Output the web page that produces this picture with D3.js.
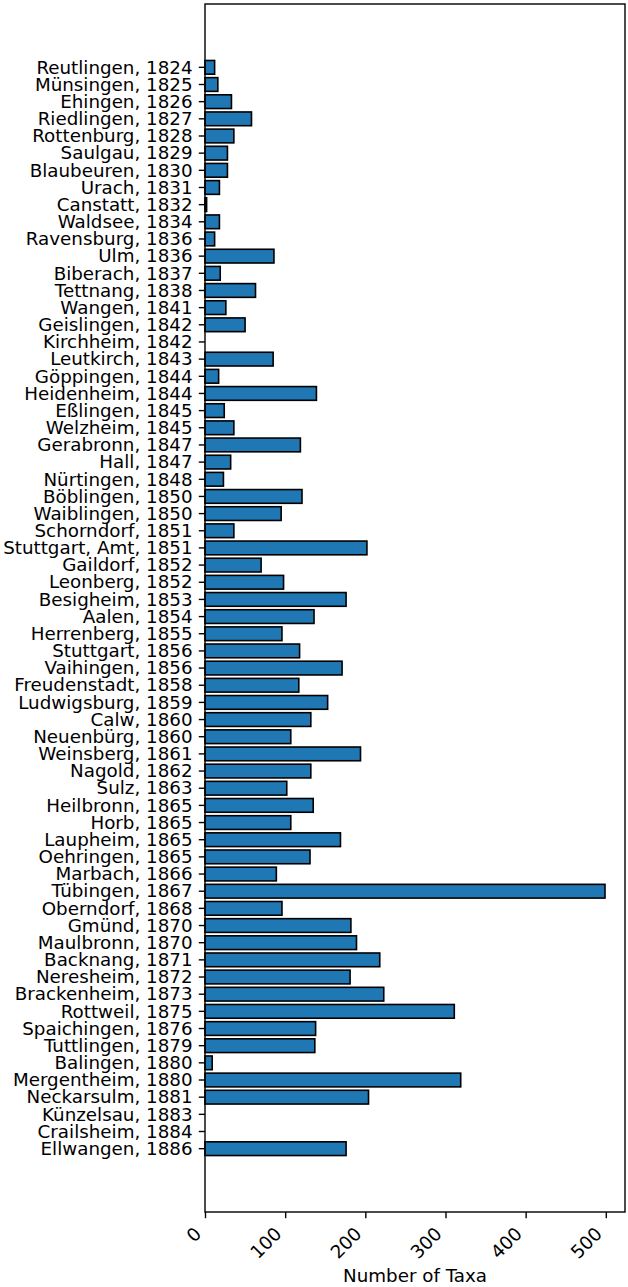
<!DOCTYPE html>
<html>
<head>
<meta charset="utf-8">
<script src="https://cdn.jsdelivr.net/npm/d3@7"></script>
<style>
  body { margin: 0; background: #fff; }
  svg text { font-family: "DejaVu Sans", sans-serif; fill: #000; }
</style>
</head>
<body>
<div id="chart"></div>
<script>
// Districts (label, year) and number of taxa
var districts = ["Reutlingen, 1824","Münsingen, 1825","Ehingen, 1826","Riedlingen, 1827","Rottenburg, 1828",
  "Saulgau, 1829","Blaubeuren, 1830","Urach, 1831","Canstatt, 1832","Waldsee, 1834","Ravensburg, 1836",
  "Ulm, 1836","Biberach, 1837","Tettnang, 1838","Wangen, 1841","Geislingen, 1842","Kirchheim, 1842",
  "Leutkirch, 1843","Göppingen, 1844","Heidenheim, 1844","Eßlingen, 1845","Welzheim, 1845","Gerabronn, 1847",
  "Hall, 1847","Nürtingen, 1848","Böblingen, 1850","Waiblingen, 1850","Schorndorf, 1851","Stuttgart, Amt, 1851",
  "Gaildorf, 1852","Leonberg, 1852","Besigheim, 1853","Aalen, 1854","Herrenberg, 1855","Stuttgart, 1856",
  "Vaihingen, 1856","Freudenstadt, 1858","Ludwigsburg, 1859","Calw, 1860","Neuenbürg, 1860","Weinsberg, 1861",
  "Nagold, 1862","Sulz, 1863","Heilbronn, 1865","Horb, 1865","Laupheim, 1865","Oehringen, 1865","Marbach, 1866",
  "Tübingen, 1867","Oberndorf, 1868","Gmünd, 1870","Maulbronn, 1870","Backnang, 1871","Neresheim, 1872",
  "Brackenheim, 1873","Rottweil, 1875","Spaichingen, 1876","Tuttlingen, 1879","Balingen, 1880",
  "Mergentheim, 1880","Neckarsulm, 1881","Künzelsau, 1883","Crailsheim, 1884","Ellwangen, 1886"];

var taxa = [12,16,33,58,36,
  28,28,18,2,18,12,
  86,19,63,26,50,0,
  85,17,139,24,36,119,
  32,23,121,95,36,202,
  70,98,176,136,96,118,
  171,117,153,132,107,194,
  132,102,135,107,169,131,89,
  499,96,182,189,218,181,
  223,311,138,137,9,
  319,204,0,0,176];

var xTicks = [0,100,200,300,400,500];
var xLabel = "Number of Taxa";

var W = 628, H = 1287;
var margin = {top: 4, right: 3, bottom: 75, left: 205};
var width = W - margin.left - margin.right;
var height = H - margin.top - margin.bottom;
var fs = 18.3;

var data = districts.map(function(d, i) { return {name: d, value: taxa[i]}; });

var svg = d3.select("#chart").append("svg")
  .attr("width", W)
  .attr("height", H)
  .append("g")
  .attr("transform", "translate(" + margin.left + "," + margin.top + ")");

// X-Scale (matplotlib-like 5% margin on top)
var xScale = d3.scaleLinear()
  .domain([0, d3.max(taxa) * 1.05])
  .range([0, width]);

// Y-Scale, categories top to bottom
var yScale = d3.scaleBand()
  .domain(districts)
  .range([0, height])
  .paddingInner(0.2)
  .paddingOuter(3.29);

// Bars
svg.selectAll("rect.bar")
  .data(data)
  .enter().append("rect")
  .attr("class", "bar")
  .attr("x", xScale(0))
  .attr("y", function(d) { return yScale(d.name); })
  .attr("width", function(d) { return xScale(d.value) - xScale(0); })
  .attr("height", yScale.bandwidth())
  .attr("fill", "#1f77b4")
  .attr("stroke", function(d) { return d.value > 0 ? "#000" : "none"; })
  .attr("stroke-width", 1.6);

// Frame
svg.append("rect")
  .attr("width", width)
  .attr("height", height)
  .attr("fill", "none")
  .attr("stroke", "#000")
  .attr("stroke-width", 1.4);

// Y axis
var yAxis = svg.append("g")
  .call(d3.axisLeft(yScale).tickSize(6.2).tickPadding(6.2));
yAxis.select(".domain").remove();
yAxis.selectAll(".tick line").attr("stroke", "#000").attr("stroke-width", 1.4);
yAxis.selectAll(".tick text")
  .style("font-size", fs + "px")
  .attr("dy", "0.34em");

// X axis
var xAxis = svg.append("g")
  .attr("transform", "translate(0," + height + ")")
  .call(d3.axisBottom(xScale).tickValues(xTicks).tickSize(6.2).tickFormat(d3.format("d")));
xAxis.select(".domain").remove();
xAxis.selectAll(".tick line").attr("stroke", "#000").attr("stroke-width", 1.4);
xAxis.selectAll(".tick text")
  .style("font-size", fs + "px")
  .attr("text-anchor", "end")
  .attr("y", 0)
  .attr("dy", 0)
  .attr("transform", "translate(-3,23) rotate(-45)");

// Axis label
svg.append("text")
  .attr("x", width / 2)
  .attr("y", height + 70)
  .attr("text-anchor", "middle")
  .style("font-size", fs + "px")
  .text(xLabel);
</script>
</body>
</html>
